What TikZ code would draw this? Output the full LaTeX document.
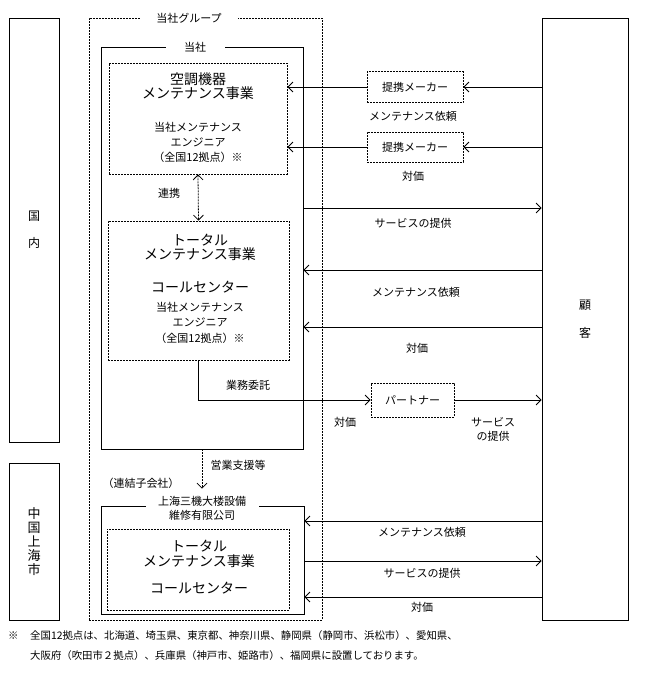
\documentclass[tikz,border=0pt]{standalone}
\usepackage{fontspec}
\setmainfont{Noto Sans CJK JP}
\usetikzlibrary{arrows.meta}
\tikzset{
  box/.style={draw, line width=0.8pt, inner sep=0pt},
  dbox/.style={box, dash pattern=on 2pt off 1pt},
  big/.style={font=\fontsize{14}{14}\selectfont, inner sep=0pt},
  small/.style={font=\fontsize{11}{11}\selectfont, inner sep=1pt},
  note/.style={font=\fontsize{10.4}{12}\selectfont, inner sep=0pt, anchor=base west},
  arr/.style={-{Straight Barb[length=5pt,width=10pt]}, line width=0.8pt},
  darr/.style={{Straight Barb[length=5pt,width=10pt]}-{Straight Barb[length=5pt,width=10pt]},
    line width=0.8pt, dash pattern=on 2pt off 1pt},
}
\begin{document}
\begin{tikzpicture}[x=1pt, y=-1pt]
  \useasboundingbox (0,0) rectangle (649,681);
  \node[box, minimum width=50, minimum height=424, align=center,
    font=\fontsize{12}{12}\selectfont] (kokunai) at (34,230) {国\\[15pt]内};
  \node[box, minimum width=50, minimum height=157, align=center,
    font=\fontsize{13}{14}\selectfont] (chugoku) at (34,541.5) {中\\国\\上\\海\\市};
  \node[box, minimum width=86, minimum height=602, align=center,
    font=\fontsize{12}{12}\selectfont] (kokyaku) at (585,319) {顧\\[16pt]客};

  \node[dbox, minimum width=233, minimum height=602] (group) at (205.5,319) {};
  \node[small, fill=white, minimum width=98] (grouplbl) at (189,18) {当社グループ};

  \node[box, minimum width=202, minimum height=402] (tosha) at (202,248) {};
  \node[small, fill=white, minimum width=59] (toshalbl) at (195,47) {当社};

  \node[dbox, minimum width=178, minimum height=111] (kucho) at (198,118.5) {};
  \node[big] (kucho1) at (198,79) {空調機器};
  \node[big] (kucho2) at (198,93) {メンテナンス事業};
  \node[small] (kucho3) at (198,127) {当社メンテナンス};
  \node[small] (kucho4) at (198,142) {エンジニア};
  \node[small] (kucho5) at (198,157) {（全国12拠点）※};

  \node[dbox, minimum width=181, minimum height=139] (total) at (198.5,290.5) {};
  \node[big] (total1) at (200,240) {トータル};
  \node[big] (total2) at (200,254) {メンテナンス事業};
  \node[big] (total3) at (200,287) {コールセンター};
  \node[small] (total4) at (200,307) {当社メンテナンス};
  \node[small] (total5) at (200,322) {エンジニア};
  \node[small] (total6) at (200,338) {（全国12拠点）※};

  \node[box, minimum width=203, minimum height=108] (shanghai) at (202.5,560) {};
  \node[small, fill=white, minimum width=113, align=center] (shlbl) at (202,508)
    {上海三機大楼設備\\[3pt]維修有限公司};
  \node[dbox, minimum width=182, minimum height=81] (shtotal) at (198,569.5) {};
  \node[big] (shtotal1) at (199,546) {トータル};
  \node[big] (shtotal2) at (199,561) {メンテナンス事業};
  \node[big] (shtotal3) at (199,588) {コールセンター};

  \node[dbox, minimum width=96, minimum height=31] (maker1) at (415,87) {\fontsize{11}{11}\selectfont 提携メーカー};
  \node[dbox, minimum width=96, minimum height=30] (maker2) at (415,147) {\fontsize{11}{11}\selectfont 提携メーカー};
  \node[dbox, minimum width=83, minimum height=34] (partner) at (412.5,400) {\fontsize{11}{11}\selectfont パートナー};

  \node[small] (renkei) at (169,193) {連携};
  \node[small] (gyomu) at (248,385) {業務委託};
  \node[small] (eigyo) at (238,465) {営業支援等};
  \node[small] (renketsu) at (141,483) {（連結子会社）};
  \node[small] (irai1) at (413,116) {メンテナンス依頼};
  \node[small] (taika1) at (413,176) {対価};
  \node[small] (svc1) at (413,223) {サービスの提供};
  \node[small] (irai2) at (416,292) {メンテナンス依頼};
  \node[small] (taika2) at (417,348) {対価};
  \node[small] (taika3) at (345,422) {対価};
  \node[small, align=center] (svc2) at (493,429) {サービス\\[3pt]の提供};
  \node[small] (irai3) at (422,532) {メンテナンス依頼};
  \node[small] (svc3) at (422,573) {サービスの提供};
  \node[small] (taika4) at (422,607) {対価};

  \coordinate (rsvc1) at (0,208);
  \coordinate (rirai2) at (0,270);
  \coordinate (rtaika2) at (0,327);
  \coordinate (rirai3) at (0,521);
  \coordinate (rsvc3) at (0,561);
  \coordinate (rtaika3) at (0,597);

  \begin{scope}[arr]
    \draw (maker1.east -| kokyaku.west) -- (maker1.east);
    \draw (maker1.west) -- (maker1.west -| kucho.east);
    \draw (maker2.east -| kokyaku.west) -- (maker2.east);
    \draw (maker2.west) -- (maker2.west -| kucho.east);
    \draw (rsvc1 -| tosha.east) -- (rsvc1 -| kokyaku.west);
    \draw (rirai2 -| kokyaku.west) -- (rirai2 -| tosha.east);
    \draw (rtaika2 -| kokyaku.west) -- (rtaika2 -| tosha.east);
    \draw (total.south) |- (partner.west);
    \draw (partner.east) -- (partner.east -| kokyaku.west);
    \draw (rirai3 -| kokyaku.west) -- (rirai3 -| shanghai.east);
    \draw (rsvc3 -| shanghai.east) -- (rsvc3 -| kokyaku.west);
    \draw (rtaika3 -| kokyaku.west) -- (rtaika3 -| shanghai.east);
  \end{scope}
  \draw[darr] (kucho.south) -- (total.north);
  \draw[arr, dash pattern=on 2pt off 1pt, shorten >=6pt] (tosha.south) -- (shlbl.north);

  \node[note] (mark) at (8,639) {※};
  \node[note] (note1) at (30,639) {全国12拠点は、北海道、埼玉県、東京都、神奈川県、静岡県（静岡市、浜松市）、愛知県、};
  \node[note] (note2) at (30,659) {大阪府（吹田市２拠点）、兵庫県（神戸市、姫路市）、福岡県に設置しております。};
\end{tikzpicture}
\end{document}
